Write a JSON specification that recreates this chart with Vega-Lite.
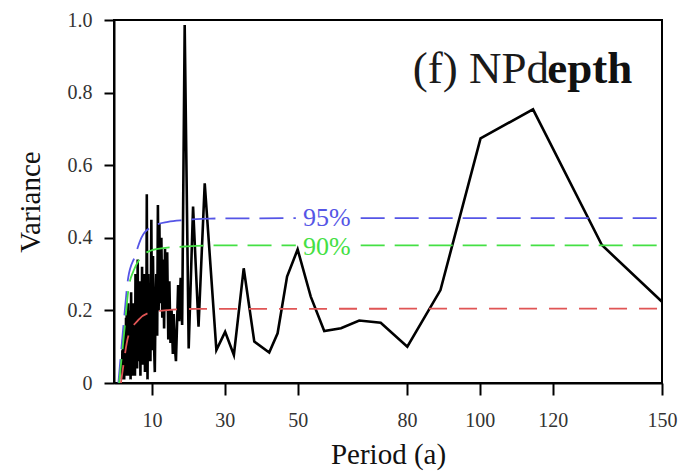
{
  "$schema": "https://vega.github.io/schema/vega-lite/v6.json",
  "autosize": {"type": "none"},
  "padding": {"left": 114, "top": 20, "right": 19, "bottom": 93},
  "width": 548,
  "height": 363,
  "background": "white",
  "config": {
    "view": {"stroke": "black", "strokeWidth": 2},
    "axis": {
      "grid": false,
      "domainColor": "black",
      "domainWidth": 2,
      "tickColor": "black",
      "tickWidth": 2,
      "labelFont": "Liberation Serif",
      "labelFontSize": 20,
      "labelColor": "#333333",
      "titleFont": "Liberation Serif",
      "titleFontSize": 29,
      "titleFontWeight": "normal",
      "titleColor": "#111111"
    }
  },
  "datasets": {
    "spec": [
      {"p": 1.8, "v": 0.01}, {"p": 1.9, "v": 0.09}, {"p": 2.0, "v": 0.02}, {"p": 2.1, "v": 0.12},
      {"p": 2.2, "v": 0.01}, {"p": 2.3, "v": 0.10}, {"p": 2.4, "v": 0.01}, {"p": 2.5, "v": 0.15},
      {"p": 2.6, "v": 0.02}, {"p": 2.7, "v": 0.13}, {"p": 2.8, "v": 0.03}, {"p": 2.9, "v": 0.18},
      {"p": 3.0, "v": 0.02}, {"p": 3.1, "v": 0.20}, {"p": 3.2, "v": 0.02}, {"p": 3.3, "v": 0.16},
      {"p": 3.4, "v": 0.04}, {"p": 3.5, "v": 0.22}, {"p": 3.6, "v": 0.05}, {"p": 3.8, "v": 0.14},
      {"p": 3.9, "v": 0.02}, {"p": 4.0, "v": 0.20}, {"p": 4.15, "v": 0.01}, {"p": 4.3, "v": 0.25},
      {"p": 4.45, "v": 0.04}, {"p": 4.6, "v": 0.18}, {"p": 4.75, "v": 0.02}, {"p": 4.9, "v": 0.22},
      {"p": 5.05, "v": 0.06}, {"p": 5.2, "v": 0.21}, {"p": 5.35, "v": 0.02}, {"p": 5.5, "v": 0.30},
      {"p": 5.65, "v": 0.08}, {"p": 5.8, "v": 0.25}, {"p": 5.95, "v": 0.04}, {"p": 6.1, "v": 0.34},
      {"p": 6.25, "v": 0.10}, {"p": 6.4, "v": 0.28}, {"p": 6.55, "v": 0.06}, {"p": 6.7, "v": 0.28},
      {"p": 6.85, "v": 0.02}, {"p": 7.0, "v": 0.23}, {"p": 7.15, "v": 0.07}, {"p": 7.3, "v": 0.32},
      {"p": 7.45, "v": 0.05}, {"p": 7.6, "v": 0.27}, {"p": 7.75, "v": 0.09}, {"p": 7.9, "v": 0.30},
      {"p": 8.1, "v": 0.03}, {"p": 8.3, "v": 0.28}, {"p": 8.45, "v": 0.08}, {"p": 8.6, "v": 0.52},
      {"p": 8.8, "v": 0.01}, {"p": 9.0, "v": 0.30}, {"p": 9.2, "v": 0.06}, {"p": 9.4, "v": 0.24},
      {"p": 9.6, "v": 0.06}, {"p": 9.85, "v": 0.45}, {"p": 10.05, "v": 0.09}, {"p": 10.3, "v": 0.35},
      {"p": 10.55, "v": 0.12}, {"p": 10.8, "v": 0.03}, {"p": 11.0, "v": 0.22}, {"p": 11.2, "v": 0.30},
      {"p": 11.45, "v": 0.13}, {"p": 11.65, "v": 0.49}, {"p": 11.85, "v": 0.20}, {"p": 12.05, "v": 0.44},
      {"p": 12.3, "v": 0.22}, {"p": 12.6, "v": 0.40}, {"p": 12.85, "v": 0.18}, {"p": 13.1, "v": 0.34},
      {"p": 13.35, "v": 0.15}, {"p": 13.6, "v": 0.37}, {"p": 13.9, "v": 0.20}, {"p": 14.2, "v": 0.36},
      {"p": 14.5, "v": 0.12}, {"p": 14.8, "v": 0.28}, {"p": 15.1, "v": 0.11}, {"p": 15.4, "v": 0.20},
      {"p": 15.75, "v": 0.08}, {"p": 16.0, "v": 0.19}, {"p": 16.3, "v": 0.10}, {"p": 16.6, "v": 0.06},
      {"p": 16.9, "v": 0.16}, {"p": 17.2, "v": 0.27}, {"p": 17.5, "v": 0.17}, {"p": 17.9, "v": 0.29},
      {"p": 18.3, "v": 0.16}, {"p": 19.0, "v": 0.986},
      {"p": 20.1, "v": 0.095}, {"p": 21.3, "v": 0.486}, {"p": 22.8, "v": 0.155}, {"p": 24.5, "v": 0.55},
      {"p": 27.7, "v": 0.091}, {"p": 30.1, "v": 0.141}, {"p": 32.5, "v": 0.077}, {"p": 35.2, "v": 0.316},
      {"p": 38.1, "v": 0.114}, {"p": 42.2, "v": 0.084}, {"p": 44.5, "v": 0.137}, {"p": 47.1, "v": 0.293},
      {"p": 50.0, "v": 0.368}, {"p": 53.6, "v": 0.238}, {"p": 57.3, "v": 0.143}, {"p": 61.9, "v": 0.151},
      {"p": 66.9, "v": 0.172}, {"p": 72.8, "v": 0.166}, {"p": 80.1, "v": 0.10}, {"p": 89.2, "v": 0.256},
      {"p": 100.2, "v": 0.674}, {"p": 114.6, "v": 0.754}, {"p": 133.5, "v": 0.380}, {"p": 150, "v": 0.224}
    ],
    "sig": [
      {"level": "95%", "seg": "a", "p": 0.8, "v": 0.0},
      {"level": "95%", "seg": "a", "p": 1.5, "v": 0.08},
      {"level": "95%", "seg": "a", "p": 2.3, "v": 0.17},
      {"level": "95%", "seg": "a", "p": 3.5, "v": 0.29},
      {"level": "95%", "seg": "a", "p": 5.3, "v": 0.348},
      {"level": "95%", "seg": "a", "p": 7.1, "v": 0.40},
      {"level": "95%", "seg": "a", "p": 9.9, "v": 0.43},
      {"level": "95%", "seg": "a", "p": 14.4, "v": 0.444},
      {"level": "95%", "seg": "a", "p": 19.0, "v": 0.449},
      {"level": "95%", "seg": "a", "p": 26.0, "v": 0.453},
      {"level": "95%", "seg": "a", "p": 49.5, "v": 0.454},
      {"level": "95%", "seg": "b", "p": 67.3, "v": 0.454},
      {"level": "95%", "seg": "b", "p": 150, "v": 0.454},
      {"level": "90%", "seg": "a", "p": 1.0, "v": 0.0},
      {"level": "90%", "seg": "a", "p": 1.6, "v": 0.06},
      {"level": "90%", "seg": "a", "p": 2.4, "v": 0.14},
      {"level": "90%", "seg": "a", "p": 3.6, "v": 0.26},
      {"level": "90%", "seg": "a", "p": 5.0, "v": 0.31},
      {"level": "90%", "seg": "a", "p": 6.5, "v": 0.339},
      {"level": "90%", "seg": "a", "p": 9.0, "v": 0.362},
      {"level": "90%", "seg": "a", "p": 12.6, "v": 0.371},
      {"level": "90%", "seg": "a", "p": 19.0, "v": 0.376},
      {"level": "90%", "seg": "a", "p": 26.0, "v": 0.379},
      {"level": "90%", "seg": "a", "p": 49.5, "v": 0.379},
      {"level": "90%", "seg": "b", "p": 67.3, "v": 0.379},
      {"level": "90%", "seg": "b", "p": 150, "v": 0.379},
      {"level": "red", "seg": "a", "p": 1.5, "v": 0.0},
      {"level": "red", "seg": "a", "p": 2.0, "v": 0.036},
      {"level": "red", "seg": "a", "p": 3.5, "v": 0.128},
      {"level": "red", "seg": "a", "p": 6.3, "v": 0.174},
      {"level": "red", "seg": "a", "p": 9.5, "v": 0.194},
      {"level": "red", "seg": "a", "p": 14.4, "v": 0.201},
      {"level": "red", "seg": "a", "p": 22.0, "v": 0.204},
      {"level": "red", "seg": "a", "p": 150, "v": 0.205}
    ],
    "siglabels": [
      {"level": "95%", "p": 51.5, "v": 0.454},
      {"level": "90%", "p": 51.5, "v": 0.374}
    ],
    "head1": [{"label": "(f) NPd", "p": 81.6, "v": 0.826}],
    "head2": [{"label": "epth", "p": 118.5, "v": 0.826}]
  },
  "layer": [
    {
      "data": {"name": "spec"},
      "mark": {"type": "line", "color": "black", "strokeWidth": 2.6, "strokeJoin": "miter", "strokeMiterLimit": 6},
      "encoding": {
        "x": {
          "field": "p", "type": "quantitative",
          "scale": {"domain": [-0.4, 150], "nice": false, "zero": false},
          "axis": {"values": [10, 30, 50, 80, 100, 120, 150], "title": "Period (a)", "tickSize": 12, "labelPadding": 15,
                   "titlePadding": 10, "labelFlush": false, "labelFont": "Liberation Serif", "titleFont": "Liberation Serif"}
        },
        "y": {
          "field": "v", "type": "quantitative",
          "scale": {"domain": [0, 1], "nice": false},
          "axis": {"values": [0, 0.2, 0.4, 0.6, 0.8, 1.0], "title": "Variance", "tickSize": 10, "labelPadding": 12, "titlePadding": 22,
                   "labelExpr": "datum.value == 0 ? '0' : format(datum.value, '.1f')", "labelFlush": false,
                   "labelFont": "Liberation Serif", "titleFont": "Liberation Serif"}
        }
      }
    },
    {
      "data": {"name": "sig"},
      "mark": {"type": "line", "strokeWidth": 1.8, "interpolate": "monotone"},
      "encoding": {
        "x": {"field": "p", "type": "quantitative"},
        "y": {"field": "v", "type": "quantitative"},
        "detail": {"field": "seg"},
        "color": {"field": "level", "type": "nominal", "legend": null,
                  "scale": {"domain": ["95%", "90%", "red"], "range": ["#5555e6", "#44e044", "#e05555"]}},
        "strokeDash": {"field": "level", "type": "nominal", "legend": null,
                  "scale": {"domain": ["95%", "90%", "red"], "range": [[24, 10], [24, 10], [18, 12]]}}
      }
    },
    {
      "data": {"name": "siglabels"},
      "mark": {"type": "text", "font": "Liberation Serif", "fontSize": 26, "align": "left", "baseline": "middle"},
      "encoding": {
        "x": {"field": "p", "type": "quantitative"},
        "y": {"field": "v", "type": "quantitative"},
        "text": {"field": "level"},
        "color": {"field": "level", "type": "nominal", "legend": null,
                  "scale": {"domain": ["95%", "90%", "red"], "range": ["#3a3ab8", "#44dd44", "#e05555"]}}
      }
    },
    {
      "data": {"name": "head1"},
      "mark": {"type": "text", "font": "Liberation Serif", "fontSize": 45, "align": "left", "baseline": "alphabetic", "color": "#1a1a1a"},
      "encoding": {
        "x": {"field": "p", "type": "quantitative"},
        "y": {"field": "v", "type": "quantitative"},
        "text": {"field": "label"}
      }
    },
    {
      "data": {"name": "head2"},
      "mark": {"type": "text", "font": "Liberation Serif", "fontSize": 45, "fontWeight": "bold", "align": "left", "baseline": "alphabetic", "color": "#111111"},
      "encoding": {
        "x": {"field": "p", "type": "quantitative"},
        "y": {"field": "v", "type": "quantitative"},
        "text": {"field": "label"}
      }
    }
  ]
}
